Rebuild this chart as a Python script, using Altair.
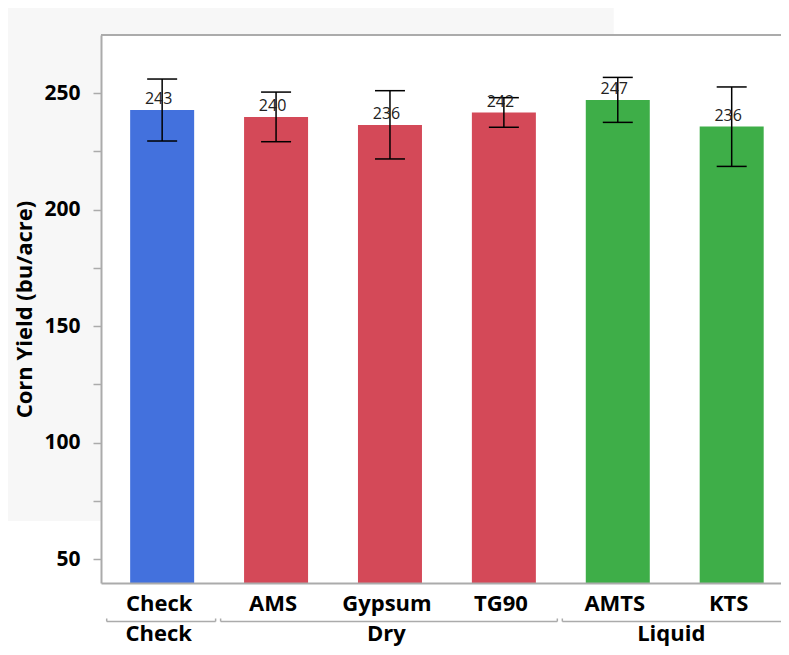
import altair as alt
import pandas as pd

# ---- data ----
treatments = ["Check", "AMS", "Gypsum", "TG90", "AMTS", "KTS"]
group_of = ["Check", "Dry", "Dry", "Dry", "Liquid", "Liquid"]
yield_mean = [242.7, 239.7, 236.3, 241.6, 247.0, 235.6]
err_hi = [256.0, 250.4, 251.0, 248.0, 256.7, 252.6]
err_lo = [229.4, 229.1, 221.7, 235.3, 237.4, 218.5]
groups = ["Check", "Dry", "Liquid"]
group_colors = ["#4371DD", "#D44958", "#3EAE48"]
y_ticks = [50, 75, 100, 125, 150, 175, 200, 225, 250]
y_domain = [39.7, 274.9]
x_domain = [-0.493, 5.389]

df = pd.DataFrame({
    "treatment": treatments,
    "group": group_of,
    "idx": list(range(len(treatments))),
    "mean": yield_mean,
    "hi": err_hi,
    "lo": err_lo,
})

gdf = (df.groupby("group", sort=False)["idx"]
       .agg(["min", "max"]).reset_index())
gdf["start"] = gdf["min"] - 0.5
gdf["end"] = gdf["max"] + 0.5
gdf["center"] = (gdf["min"] + gdf["max"]) / 2.0

W, H = 680, 548
FONT = "Open Sans"
GRAY = "#ababab"

names_js = "[" + ",".join("'" + t + "'" for t in treatments) + "]"

xscale = alt.Scale(domain=x_domain, nice=False, zero=False)
yscale = alt.Scale(domain=y_domain, nice=False, zero=False)

x_axis = alt.Axis(
    values=list(range(len(treatments))),
    labelExpr=names_js + "[datum.value]",
    title=None, ticks=False, grid=False,
    domainColor=GRAY, domainWidth=2,
    labelFont=FONT, labelFontSize=22, labelFontWeight="bold",
    labelColor="black", labelPadding=10, labelOffset=-3.5,
    labelFlush=False, labelOverlap=False, zindex=1,
)
y_axis = alt.Axis(
    values=y_ticks,
    labelExpr="datum.value % 50 === 0 ? datum.label : ''",
    title="Corn Yield (bu/acre)",
    titleFont=FONT, titleFontSize=22, titleFontWeight="bold",
    titleColor="black", titlePadding=7,
    grid=False, tickColor=GRAY, tickSize=8, tickWidth=1.5,
    domainColor=GRAY, domainWidth=2,
    labelFont=FONT, labelFontSize=21, labelFontWeight="bold",
    labelColor="black", labelPadding=13, labelOverlap=False, zindex=1,
)

one = pd.DataFrame({"a": [0]})

bg = alt.Chart(one).mark_rect(color="#f7f7f7").encode(
    x=alt.value(-93), x2=alt.value(512.7), y=alt.value(-27), y2=alt.value(486))
plotbg = alt.Chart(one).mark_rect(color="white").encode(
    x=alt.value(0), x2=alt.value(W), y=alt.value(0), y2=alt.value(H))
topline = alt.Chart(one).mark_rule(color=GRAY, strokeWidth=2).encode(
    x=alt.value(0), x2=alt.value(W + 5), y=alt.value(0))

base = alt.Chart(df)

bars = base.mark_bar(size=64).encode(
    x=alt.X("idx:Q", scale=xscale, axis=x_axis),
    y=alt.Y("mean:Q", scale=yscale, axis=y_axis),
    y2=alt.datum(y_domain[0]),
    color=alt.Color("group:N", scale=alt.Scale(domain=groups, range=group_colors), legend=None),
)

labels = base.mark_text(font=FONT, fontSize=16, color="#222222", baseline="alphabetic",
                        dy=-6, dx=-3.5).encode(
    x="idx:Q", y="mean:Q", text=alt.Text("mean:Q", format=".0f"))

err = base.mark_rule(color="black", strokeWidth=1.5).encode(
    x="idx:Q", y="lo:Q", y2="hi:Q")
cap_hi = base.mark_rule(color="black", strokeWidth=1.5, xOffset=-15, x2Offset=15).encode(
    x="idx:Q", x2="idx:Q", y="hi:Q")
cap_lo = base.mark_rule(color="black", strokeWidth=1.5, xOffset=-15, x2Offset=15).encode(
    x="idx:Q", x2="idx:Q", y="lo:Q")

gbase = alt.Chart(gdf)
brackets = gbase.mark_rule(color=GRAY, strokeWidth=1.5, xOffset=1.5, x2Offset=-3.5).encode(
    x="start:Q", x2="end:Q", y=alt.value(H + 38.5))
bl = gbase.mark_rule(color=GRAY, strokeWidth=1.5, xOffset=1.5).encode(
    x="start:Q", y=alt.value(H + 35.5), y2=alt.value(H + 38.5))
br = gbase.mark_rule(color=GRAY, strokeWidth=1.5, xOffset=-3.5).encode(
    x="end:Q", y=alt.value(H + 35.5), y2=alt.value(H + 38.5))
glabels = gbase.mark_text(font=FONT, fontSize=22, fontWeight="bold", color="black",
                          baseline="alphabetic", dx=-3.5).encode(
    x="center:Q", y=alt.value(H + 57.5), text="group:N")

chart = alt.layer(
    bg, plotbg, topline, bars, err, cap_hi, cap_lo, labels, brackets, bl, br, glabels
).properties(
    width=W, height=H,
    autosize=alt.AutoSizeParams(type="none"),
    padding={"left": 93, "top": 27, "right": 0, "bottom": 64},
    background="white",
).configure_view(stroke=None)

chart.save("out.html", embed_options={"renderer": "svg", "actions": False})
